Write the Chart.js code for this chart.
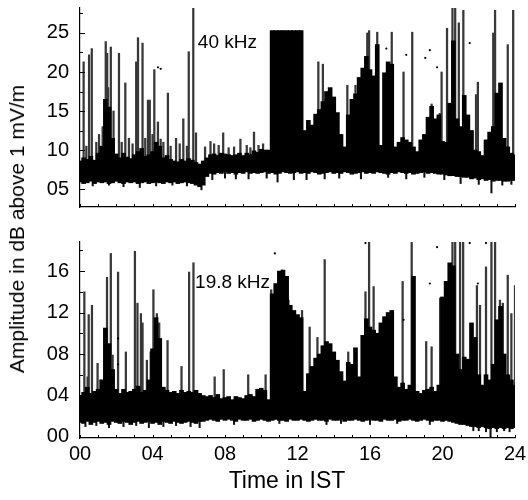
<!DOCTYPE html>
<html><head><meta charset="utf-8">
<script src="https://cdn.jsdelivr.net/npm/chart.js@4"></script>
<style>
html,body{margin:0;padding:0;background:#fff;}
#wrap{position:relative;width:528px;height:500px;overflow:hidden;background:#fff;}
#c1{position:absolute;left:0;top:0;width:528px;height:225px;}
#c2{position:absolute;left:0;top:225px;width:528px;height:275px;}
.axt{position:absolute;transform:translate(-50%,-50%);font-family:"Liberation Sans",Arial,sans-serif;white-space:nowrap;color:#000;}
#ytitle{left:17px;top:229px;font-size:21px;transform:translate(-50%,-50%) rotate(-90deg);}
#xtitle{left:287px;top:480px;font-size:23px;}
</style></head>
<body><div id="wrap">
<canvas id="c1" width="528" height="225"></canvas>
<canvas id="c2" width="528" height="275"></canvas>
<div id="ytitle" class="axt">Amplitude in dB above 1 mV/m</div>
<div id="xtitle" class="axt">Time in IST</div>
</div>
<script>
// ---------- DATA ----------
// time grid (hours), 0.2 h bins
const hours = Array.from({length:121},(_,i)=>i/5);
const xLabelHours = [0,4,8,12,16,20,24];
const xMinorHours = Array.from({length:25},(_,i)=>i);

// 40 kHz panel: dense band (low / high of black mass)
const topHi = [
8.6,9.0,8.8,9.2,8.7,9.6,10.5,16.5,15.5,11.5,
9.5,9.0,9.6,9.1,8.9,9.4,9.8,10.2,9.2,9.4,
9.8,11.0,10.5,9.0,9.3,8.8,8.6,8.5,8.8,8.6,
8.9,8.7,8.4,8.2,8.6,9.0,9.4,9.5,9.3,9.6,
9.5,9.4,9.3,9.4,9.6,9.3,9.6,9.4,9.9,9.7,
10.1,10.0,10.0,25.3,25.3,25.3,25.3,25.3,25.3,25.3,
25.3,25.3,12.5,13.8,13.2,14.6,15.2,16.2,17.5,18.0,
16.8,14.8,12.0,10.4,14.5,16.5,17.2,19.3,20.5,22.0,
20.3,19.5,23.5,10.6,19.9,21.3,21.0,10.4,11.0,11.6,
11.3,11.0,10.4,9.8,11.3,12.0,14.2,15.6,14.0,14.5,
11.1,11.0,16.0,24.0,14.0,13.0,17.0,14.5,12.5,10.0,
9.8,9.3,11.3,12.3,13.0,17.3,18.6,11.5,10.4,9.6,
9.4];
const topLo = [
5.9,5.7,5.8,6.0,5.7,5.9,5.8,5.9,5.7,5.8,
6.0,5.8,5.7,5.9,5.8,5.9,5.7,5.8,5.9,5.7,
5.8,5.9,5.8,5.7,5.9,5.8,5.9,5.7,5.8,5.9,
5.8,5.7,5.5,5.3,5.5,6.6,7.0,6.9,7.1,7.0,
7.2,7.0,7.1,6.9,7.1,7.0,7.2,7.0,7.1,7.0,
7.1,7.2,7.0,7.1,6.9,7.0,7.2,7.1,7.0,7.1,
7.2,7.0,7.1,7.0,7.2,7.1,6.9,7.0,7.1,7.2,
7.0,7.1,7.0,7.2,7.1,6.9,7.0,7.1,7.2,7.0,
7.1,7.0,7.2,7.1,7.0,6.9,7.1,7.0,7.2,7.1,
7.0,7.1,6.9,7.0,7.1,7.2,7.0,7.1,7.0,6.9,
6.9,6.8,6.7,6.7,6.6,6.6,6.5,6.5,6.3,6.4,
6.2,6.3,6.1,6.2,6.0,6.1,6.1,6.0,6.0,6.1,
6.1];
// 40 kHz thin spikes (time, peak)
const topSpikeT = [0.2,0.35,0.5,0.65,0.9,1.05,1.25,1.42,1.5,1.55,1.7,1.85,2.15,2.3,2.5,2.7,2.9,3.1,3.2,3.45,3.6,3.75,3.85,4.0,4.1,4.3,4.45,4.6,4.85,5.0,5.3,5.5,5.7,5.9,6.0,6.25,6.4,6.9,7.2,7.4,7.65,7.9,8.2,8.5,8.85,9.2,9.4,9.6,9.85,10.1,13.15,13.4,14.75,15.2,15.85,15.95,16.4,17.2,17.85,18.33,19.4,19.85,19.95,20.25,20.55,20.7,20.9,21.15,21.85,21.95,22.8,22.9,23.6,23.9];
const topSpikeV = [21.3,10.5,22.2,23.0,11.0,12.0,13.0,23.9,22.4,18.0,23.2,15.0,22.4,11.0,18.6,11.5,10.8,21.3,24.4,23.7,11.5,16.4,16.4,12.0,20.3,13.6,11.4,11.0,17.3,10.5,11.5,10.8,14.0,10.5,22.6,28.2,12.2,10.4,11.1,10.8,10.6,12.2,10.3,10.4,11.4,10.6,10.3,12.3,10.6,10.8,21.3,21.0,18.3,18.3,25.0,25.3,25.1,25.1,20.0,25.1,15.9,14.7,20.0,25.6,28.2,28.2,26.3,27.9,17.1,18.7,25.0,27.9,23.5,27.9];
// 40 kHz downward outliers (time, low)
const topDownT = [0.7,1.6,2.4,3.3,4.2,5.1,5.9,6.7,7.3,8.0,8.6,9.3,10.3,10.9,11.8,12.5,13.5,14.3,15.5,17.0,18.0,19.0,20.1,21.0,22.0,22.7,23.3,23.8];
const topDownV = [5.4,5.5,5.3,5.2,5.4,5.5,5.4,4.9,6.2,6.4,6.3,6.3,6.4,5.9,6.2,6.2,6.3,6.4,6.3,6.5,6.3,6.5,6.2,5.7,5.6,4.5,5.5,5.6];
// 40 kHz isolated dots
const topDotT = [4.3,4.45,16.9,18.0,19.05,19.3,19.7,21.5];
const topDotV = [20.6,20.4,23.0,22.2,21.8,22.8,20.6,23.7];
const topTicks = [5,10,15,20,25];

// 19.8 kHz panel
const botHi = [
4.0,4.3,4.8,4.2,4.4,4.6,5.5,10.5,9.0,6.5,
4.6,4.2,4.6,4.3,4.4,4.6,4.9,4.3,4.5,5.5,
8.5,11.5,9.5,4.8,4.5,4.3,4.4,4.2,4.5,4.3,
4.4,4.3,4.5,4.2,4.0,3.9,4.0,3.8,4.1,3.7,
3.8,3.9,3.6,3.9,3.8,3.7,4.0,4.1,3.9,4.6,
4.7,4.5,3.6,13.8,14.8,16.0,16.1,15.5,12.7,12.2,
11.8,11.5,4.4,6.1,6.8,7.6,8.0,8.8,9.2,9.0,
8.2,7.4,6.3,5.4,7.2,7.0,8.6,5.8,9.8,11.4,
10.6,10.3,10.0,11.0,11.6,12.0,12.2,5.8,4.8,5.2,
4.6,5.0,15.5,4.4,4.2,4.5,4.6,4.8,4.4,5.0,
13.5,15.0,16.8,16.5,8.0,6.5,7.7,7.5,11.0,9.6,
6.0,5.0,6.0,5.5,7.0,11.3,12.6,8.0,6.0,5.5,
5.0];
const botLo = [
1.4,1.3,1.5,1.2,1.4,1.5,1.3,1.4,1.2,1.5,
1.4,1.3,1.5,1.4,1.2,1.4,1.5,1.3,1.4,1.5,
1.3,1.4,1.2,1.5,1.4,1.3,1.5,1.4,1.3,1.4,
1.5,1.4,1.3,1.5,1.5,1.6,1.7,1.6,1.5,1.7,
1.6,1.7,1.6,1.5,1.7,1.6,1.6,1.7,1.5,1.6,
1.7,1.6,1.5,1.6,1.7,1.6,1.6,1.5,1.7,1.6,
1.6,1.7,1.6,1.5,1.6,1.7,1.6,1.6,1.5,1.7,
1.6,1.6,1.7,1.5,1.6,1.6,1.7,1.6,1.5,1.6,
1.7,1.6,1.6,1.5,1.7,1.6,1.6,1.7,1.5,1.6,
1.6,1.7,1.6,1.5,1.6,1.7,1.6,1.5,1.6,1.6,
1.5,1.6,1.5,1.4,1.3,1.2,1.2,1.1,1.0,1.0,
0.9,1.0,0.9,0.8,0.9,0.8,0.9,0.8,0.9,0.8,
0.9];
const botSpikeT = [0.24,0.42,0.48,0.66,0.97,1.15,1.49,1.7,1.8,2.1,2.53,3.03,3.17,3.36,3.45,3.69,3.9,4.05,4.24,4.37,4.83,5.6,6.02,6.26,7.43,7.93,9.28,10.24,10.55,11.15,11.5,12.25,12.67,13.1,13.5,14.8,15.75,15.95,16.2,17.8,18.3,19.1,19.4,19.87,20.55,20.7,20.97,21.14,21.9,22.07,22.4,22.7,22.9,23.17,23.33,23.6,23.8,24.0];
const botSpikeV = [14.0,5.8,11.8,12.7,7.1,5.5,15.4,17.7,7.9,15.9,8.2,17.9,12.9,11.9,11.0,7.4,8.2,14.2,11.9,11.0,9.3,6.8,15.9,16.8,5.8,6.5,6.0,6.0,14.2,16.1,13.2,12.2,10.6,9.6,17.1,8.2,14.0,18.8,14.5,15.0,18.8,9.2,8.7,13.4,18.8,18.8,18.8,18.8,14.6,12.7,16.4,18.8,18.8,13.2,12.9,15.6,11.9,14.6];
const botDownT = [0.3,0.9,1.6,2.4,3.1,3.8,4.6,5.3,6.1,6.6,8.5,11.0,13.6,14.4,16.0,17.5,19.3,21.7,22.0,22.4,22.65,23.0,23.4,23.7];
const botDownV = [1.0,1.1,0.9,1.0,1.1,0.9,1.0,1.1,1.0,0.9,1.2,1.3,1.2,1.3,1.2,1.3,1.2,0.6,0.6,0.5,0.0,0.5,0.6,0.5];
const botDotT = [2.1,2.1,10.75,15.75,17.85,19.3,19.7,21.5,21.95,22.4];
const botDotV = [9.5,7.0,17.7,18.7,11.3,14.8,18.3,18.7,14.8,18.7];
const botTicks = [0,4,8,12,16];

// ---------- DRAWING ----------
const FONT = '"Liberation Sans", Arial, Helvetica, sans-serif';
const pad2 = v => (v < 10 ? '0' : '') + v;

const inTicks = {
  id:'inTicks',
  afterDraw(chart, args, o){
    const {ctx, chartArea:a, scales:{x,y}} = chart;
    ctx.save(); ctx.strokeStyle='#000'; ctx.lineWidth=1; ctx.beginPath();
    o.xMinor.forEach(h=>{ const p=Math.round(x.getPixelForValue(h))+0.5; ctx.moveTo(p,a.bottom); ctx.lineTo(p,a.bottom-3); });
    o.yMajor.forEach(v=>{ const p=Math.round(y.getPixelForValue(v))+0.5; ctx.moveTo(a.left,p); ctx.lineTo(a.left+5,p); });
    o.yMinor.forEach(v=>{ const p=Math.round(y.getPixelForValue(v))+0.5; if(p>a.top && p<a.bottom){ctx.moveTo(a.left,p); ctx.lineTo(a.left+3,p);} });
    ctx.stroke(); ctx.restore();
  }
};
const panelLabel = {
  id:'panelLabel',
  afterDatasetsDraw(chart, args, o){
    const {ctx, scales:{x,y}} = chart;
    ctx.save(); ctx.font = o.size+'px '+FONT; ctx.fillStyle='#000';
    ctx.textAlign='left'; ctx.textBaseline='middle';
    ctx.fillText(o.text, x.getPixelForValue(o.x), y.getPixelForValue(o.y));
    ctx.restore();
  }
};

function makePanel(id, p){
  const band = hours.map((h,i)=>({x:h, y:[p.lo[i], p.hi[i]]}));
  const spikes = p.spikeT.map((t,i)=>({x:t, y:[p.spikeBase, p.spikeV[i]]}));
  const downs = p.downT.map((t,i)=>({x:t, y:[p.downV[i], p.spikeBase]}));
  const dots = p.dotT.map((t,i)=>({x:t, y:p.dotV[i]}));
  const yMinor = [];
  for (let i=0;i<p.yTicks.length;i++){ yMinor.push(p.yTicks[i]+p.minorStep); }
  return new Chart(document.getElementById(id), {
    type:'bar',
    data:{datasets:[
      {type:'scatter', data:dots, pointRadius:1.1, pointBackgroundColor:'#000', pointBorderWidth:0, order:0},
      {type:'bar', data:band, backgroundColor:'#000', barThickness:4, grouped:false, order:1},
      {type:'bar', data:spikes, backgroundColor:'#383838', barThickness:1.6, grouped:false, order:2},
      {type:'bar', data:downs, backgroundColor:'#111', barThickness:1.4, grouped:false, order:2}
    ]},
    options:{
      responsive:false, animation:false, devicePixelRatio:1,
      layout:{padding:{top:p.padTop, right:13, left:0, bottom:0}},
      plugins:{legend:{display:false}, tooltip:{enabled:false},
        inTicks:{xMinor:xMinorHours, yMajor:p.yTicks, yMinor:yMinor},
        panelLabel:{text:p.label, x:p.labelX, y:p.labelY, size:19}},
      scales:{
        x:{type:'linear', min:0, max:24, offset:false,
           grid:{display:false, drawTicks:false},
           border:{display:true, color:'#000', width:1.2},
           afterBuildTicks(s){ s.ticks = xLabelHours.map(v=>({value:v})); },
           ticks:{display:p.showX, autoSkip:false, maxRotation:0, padding:4, color:'#000',
                  font:{family:FONT, size:20}, callback:v=>pad2(v)},
           title:{display:false},
           afterFit(s){ s.height = p.xHeight; s.paddingLeft = 0; s.paddingRight = 0; }},
        y:{min:p.yMin, max:p.yMax,
           grid:{display:false, drawTicks:false},
           border:{display:true, color:'#000', width:1.2},
           afterBuildTicks(s){ s.ticks = p.yTicks.map(v=>({value:v})); },
           ticks:{padding:11, color:'#000', font:{family:FONT, size:20}, callback:v=>pad2(v)},
           afterFit(s){ s.width = 80; s.paddingTop = 0; s.paddingBottom = 0; }}
      }
    },
    plugins:[inTicks, panelLabel]
  });
}

makePanel('c1', {lo:topLo, hi:topHi, spikeT:topSpikeT, spikeV:topSpikeV, spikeBase:7.5,
  downT:topDownT, downV:topDownV, dotT:topDotT, dotV:topDotV, yTicks:topTicks, minorStep:2.5,
  yMin:2.7, yMax:28.2, padTop:8, xHeight:18, showX:false,
  label:'40 kHz', labelX:6.5, labelY:23.7});
makePanel('c2', {lo:botLo, hi:botHi, spikeT:botSpikeT, spikeV:botSpikeV, spikeBase:2.8,
  downT:botDownT, downV:botDownV, dotT:botDotT, dotV:botDotV, yTicks:botTicks, minorStep:2,
  yMin:-0.1, yMax:18.8, padTop:17, xHeight:62, showX:true,
  label:'19.8 kHz', labelX:6.35, labelY:14.9});
</script>
</body></html>
